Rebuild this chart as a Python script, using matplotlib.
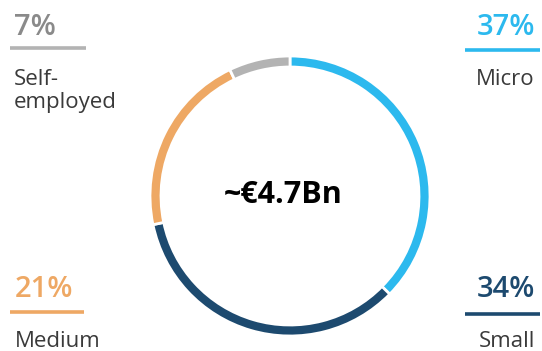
import matplotlib.pyplot as plt

plt.rcParams['font.family'] = ['Open Sans', 'DejaVu Sans']

# share of the ~€4.7Bn book by segment
segments = ['Micro', 'Small', 'Medium', 'Self-employed']
shares = [37, 34, 21, 7]
labels = ['Micro', 'Small', 'Medium', 'Self-\nemployed']
colors = ['#2cb9ee', '#1d4a6f', '#eea864', '#b3b3b3']
pct_colors = ['#2cb9ee', '#1d4a6f', '#eea864', '#8a8a8a']
total_label = '~€4.7Bn'

W, H = 542, 351

fig = plt.figure(figsize=(W / 100, H / 100), dpi=100)
ax = fig.add_axes([0, 0, 1, 1])

ax.pie(shares, colors=colors, startangle=90, counterclock=False,
       center=(290, H - 196), radius=140,
       wedgeprops=dict(width=11, edgecolor='white', linewidth=2))
ax.set_xlim(0, W)
ax.set_ylim(0, H)
ax.set_aspect('equal')
ax.axis('off')

ax.text(283, H - 195, total_label, ha='center', va='center',
        fontsize=22, fontweight='bold', color='black')

# corner callouts: percentage, rule, segment name
# (x anchor, alignment, pct baseline, rule y, rule x0, rule x1, label top)
spots = {
    'Micro':         (535, 'right', 35, 50, 465, 540, 69),
    'Small':         (535, 'right', 297, 314, 465, 540, 331),
    'Medium':        (15, 'left', 297, 312, 10, 84, 331),
    'Self-employed': (14, 'left', 35, 48, 10, 86, 69),
}

for seg, val, lab, pc in zip(segments, shares, labels, pct_colors):
    x, ha, base, ry, x0, x1, top = spots[seg]
    ax.text(x, H - base, f'{val}%', ha=ha, va='baseline',
            fontsize=21, fontweight='semibold', color=pc)
    ax.plot([x0, x1], [H - ry, H - ry], color=colors[segments.index(seg)],
            linewidth=2.6, solid_capstyle='butt')
    ax.text(x, H - top, lab, ha=ha, va='top', fontsize=16,
            color='#3a3a3a', linespacing=1.15)

fig.savefig('out.png', dpi=100)
